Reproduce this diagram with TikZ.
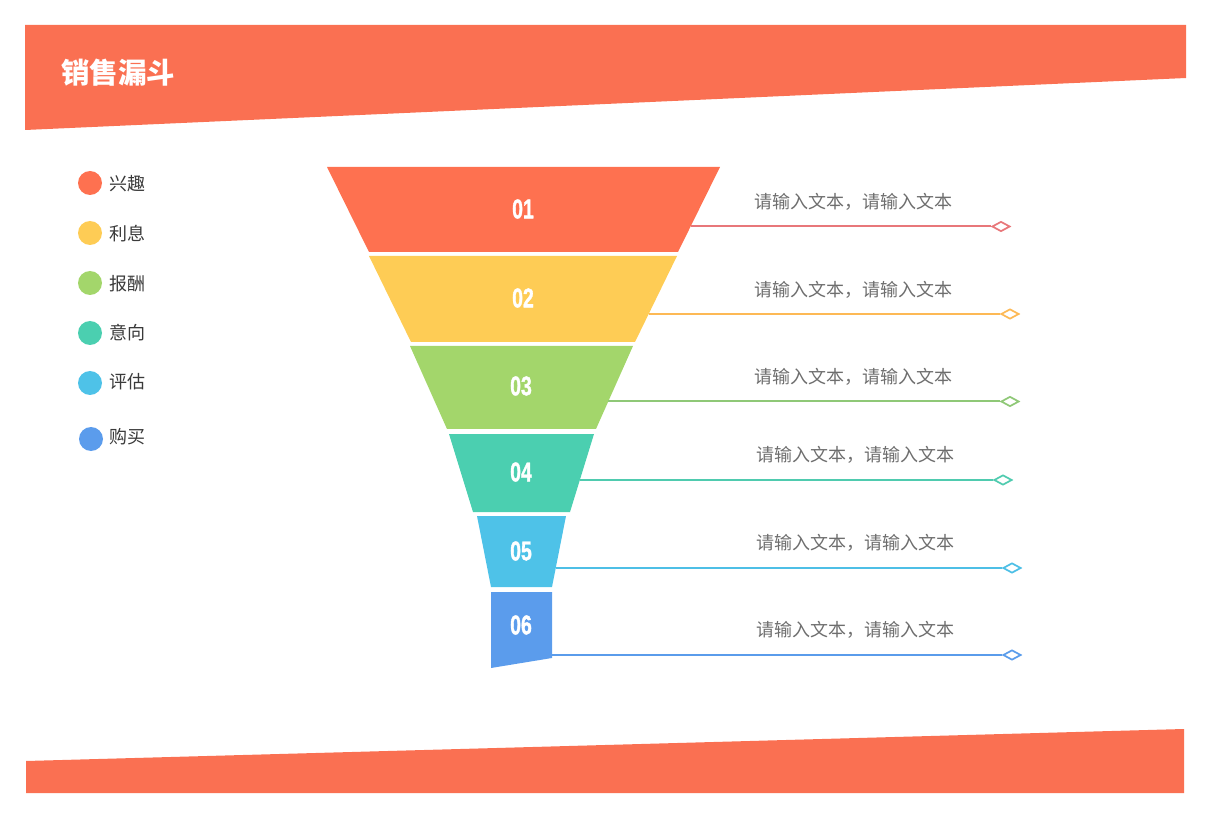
\documentclass[tikz,border=0pt]{standalone}
\usepackage{fontspec}
\setmainfont{Liberation Sans}
\newfontfamily\cjk{Noto Sans CJK SC}
\newfontfamily\numfont[FakeBold=1.6]{Liberation Sans Bold}
\usetikzlibrary{shapes.geometric}
\definecolor{cBand}{HTML}{FA7052}
\definecolor{cA}{HTML}{FE7150}
\definecolor{cB}{HTML}{FECC55}
\definecolor{cC}{HTML}{A3D66B}
\definecolor{cD}{HTML}{4BCFB0}
\definecolor{cE}{HTML}{4EC2E8}
\definecolor{cF}{HTML}{5B9CEC}
\definecolor{lA}{HTML}{E8777A}
\definecolor{lB}{HTML}{FDB955}
\definecolor{lC}{HTML}{8FC877}
\definecolor{lD}{HTML}{4FCBAF}
\definecolor{lE}{HTML}{4DBFE6}
\definecolor{lF}{HTML}{5A9CEB}
\definecolor{txtgray}{HTML}{6E6E6E}
\definecolor{txtdark}{HTML}{3A3A3A}
\begin{document}
\begin{tikzpicture}[x=1pt,y=-1pt,
  num/.style={text=white, font=\numfont\fontsize{27}{28}\selectfont, xscale=0.72, inner sep=0pt},
  conn/.style={line width=2pt},
  tipd/.style={diamond, draw, fill=white, line width=1.7pt, minimum width=18pt, minimum height=10pt, inner sep=0pt, aspect=1.8},
  desc/.style={text=txtgray, font=\cjk\fontsize{18}{20}\selectfont, inner sep=0pt},
  dot/.style={circle, minimum size=24pt, inner sep=0pt},
  legend/.style={text=txtdark, font=\cjk\fontsize{18}{20}\selectfont, anchor=west, inner sep=0pt}
]
\useasboundingbox (0,0) rectangle (1211,818);
% bands
\fill[cBand] (25,25) -- (1186,25) -- (1186,78) -- (25,130) -- cycle;
\fill[cBand] (26,761) -- (1184,729) -- (1184,793) -- (26,793) -- cycle;
\node[anchor=west, inner sep=0pt, text=white, font=\cjk\bfseries\fontsize{28.5}{30}\selectfont] (title) at (61,73) {销售漏斗};

% legend
\node[dot, fill=cA] (g1) at (90,183) {};
\node[legend] (h1) at (109,184) {兴趣};
\node[dot, fill=cB] (g2) at (90,233) {};
\node[legend] (h2) at (109,234) {利息};
\node[dot, fill=cC] (g3) at (90,283) {};
\node[legend] (h3) at (109,284) {报酬};
\node[dot, fill=cD] (g4) at (90,333) {};
\node[legend] (h4) at (109,333) {意向};
\node[dot, fill=cE] (g5) at (90,383) {};
\node[legend] (h5) at (109,382) {评估};
\node[dot, fill=cF] (g6) at (91,439) {};
\node[legend] (h6) at (109,437) {购买};

% funnel
\fill[cA] (327,167) -- (720,167) -- (678,252) -- (369,252) -- cycle;
\fill[cB] (369,256) -- (677,256) -- (635,342) -- (411,342) -- cycle;
\fill[cC] (410,346) -- (633,346) -- (596,429) -- (447,429) -- cycle;
\fill[cD] (449,434) -- (594,434) -- (570,512) -- (473,512) -- cycle;
\fill[cE] (477,516) -- (566,516) -- (552,587) -- (491,587) -- cycle;
\fill[cF] (491,592) -- (552,592) -- (552,658) -- (491,668) -- cycle;
\node[num] (n1) at (523,209) {01};
\node[num] (n2) at (523,298) {02};
\node[num] (n3) at (521,386) {03};
\node[num] (n4) at (521,472) {04};
\node[num] (n5) at (521,551) {05};
\node[num] (n6) at (521,625) {06};

% connectors
\coordinate (s1) at (691,226.5);
\coordinate (s2) at (649,314);
\coordinate (s3) at (608,401.5);
\coordinate (s4) at (580,480);
\coordinate (s5) at (556,568);
\coordinate (s6) at (552,655);
\node[tipd, draw=lA] (e1) at (1001,226.5) {};
\node[tipd, draw=lB] (e2) at (1010,314) {};
\node[tipd, draw=lC] (e3) at (1010,401.5) {};
\node[tipd, draw=lD] (e4) at (1003,480) {};
\node[tipd, draw=lE] (e5) at (1012,568) {};
\node[tipd, draw=lF] (e6) at (1012,655) {};
\draw[conn, lA] (s1) -- (e1.west);
\draw[conn, lB] (s2) -- (e2.west);
\draw[conn, lC] (s3) -- (e3.west);
\draw[conn, lD] (s4) -- (e4.west);
\draw[conn, lE] (s5) -- (e5.west);
\draw[conn, lF] (s6) -- (e6.west);

% descriptions
\node[desc] (t1) at (853,202) {请输入文本，请输入文本};
\node[desc] (t2) at (853,290) {请输入文本，请输入文本};
\node[desc] (t3) at (853,377) {请输入文本，请输入文本};
\node[desc] (t4) at (855,455) {请输入文本，请输入文本};
\node[desc] (t5) at (855,543) {请输入文本，请输入文本};
\node[desc] (t6) at (855,630) {请输入文本，请输入文本};
\end{tikzpicture}
\end{document}
